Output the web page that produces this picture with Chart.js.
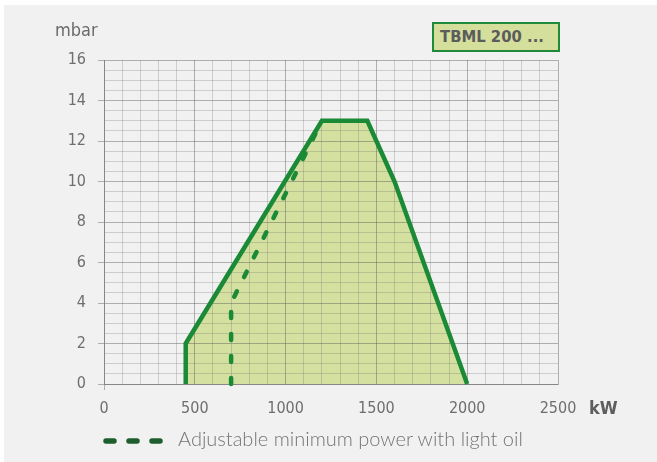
<!DOCTYPE html>
<html>
<head>
<meta charset="utf-8">
<script src="https://cdn.jsdelivr.net/npm/chart.js@4.4.1/dist/chart.umd.min.js"></script>
<style>
  html, body { margin: 0; padding: 0; background: #ffffff; }
  #wrap { position: relative; width: 657px; height: 462px; overflow: hidden; }
  #bg { position: absolute; left: 4px; top: 5px; right: 0; bottom: 0; background: #f1f1f1; }
  #chart { position: absolute; left: 0; top: 0; }
  .lbl { position: absolute; font-family: "DejaVu Sans Condensed", "DejaVu Sans", sans-serif; color: #6a6a6a; white-space: nowrap; }
  #unitY { left: 55px; top: 19px; font-size: 18px; }
  #unitX { left: 589px; top: 397px; font-size: 18px; font-weight: bold; color: #5e5e5e; }
  #model { position: absolute; left: 432px; top: 22px; width: 118px; height: 26px; border: 2px solid #1e8a3a; background: #d4df9c;
           font-family: "DejaVu Sans Condensed", "DejaVu Sans", sans-serif; font-weight: bold; font-size: 16.5px; color: #5c5c5c;
           line-height: 26px; padding-left: 6px; box-sizing: content-box; white-space: nowrap; }
  #legend { position: absolute; left: 98px; top: 428px; }
  #legText { position: absolute; left: 178px; top: 426px; font-family: Lato, "Open Sans", sans-serif; font-size: 20px; color: #747474; white-space: nowrap; font-weight: 300; }
</style>
</head>
<body>
<div id="wrap">
  <div id="bg"></div>
  <canvas id="chart" width="657" height="462"></canvas>
  <div class="lbl" id="unitY">mbar</div>
  <div class="lbl" id="unitX">kW</div>
  <div id="model">TBML 200 ...</div>
  <svg id="legend" width="72" height="26"></svg>
  <div id="legText"></div>
</div>
<script>
// ---- data ----
const rangeKW   = [450, 450, 1200, 1450, 1600, 2000];
const rangeMbar = [0,   2,   13,   13,   10,   0];
const oilKW     = [700, 700, 1200];
const oilMbar   = [0,   4,   13];
const xTickLabels = [0, 500, 1000, 1500, 2000, 2500];
const yTickLabels = [0, 2, 4, 6, 8, 10, 12, 14, 16];
const legendLabel = 'Adjustable minimum power with light oil';

document.getElementById('legText').textContent = legendLabel;

// legend dashes
document.getElementById('legend').innerHTML =
  '<line x1="8" y1="13" x2="63" y2="13" stroke="#1e5e2e" stroke-width="5.5" stroke-linecap="round" stroke-dasharray="8 15" />';

const MAJOR = 'rgba(80,80,80,0.42)';
const MINOR = 'rgba(110,110,110,0.28)';
const GREEN = '#1b8a37';

function toPts(xs, ys) { return xs.map((x, i) => ({ x: x, y: ys[i] })); }

new Chart(document.getElementById('chart'), {
  type: 'line',
  data: {
    datasets: [
      {
        data: toPts(rangeKW, rangeMbar),
        borderColor: GREEN,
        borderWidth: 4.5,
        backgroundColor: '#d4e09f',
        fill: 'origin',
        pointRadius: 0,
        tension: 0,
        clip: 8,
        borderJoinStyle: 'miter'
      },
      {
        data: toPts(oilKW, oilMbar),
        borderColor: GREEN,
        borderWidth: 4.5,
        borderDash: [6, 16],
        borderCapStyle: 'round',
        fill: false,
        pointRadius: 0,
        tension: 0,
        clip: 8
      }
    ]
  },
  options: {
    responsive: false,
    animation: false,
    events: [],
    layout: { padding: { left: 0, top: 60, right: 99, bottom: 0 } },
    plugins: {
      legend: { display: false },
      tooltip: { enabled: false },
      filler: { drawTime: 'beforeDraw' }
    },
    scales: {
      x: {
        type: 'linear',
        min: 0, max: 2500,
        afterFit: s => { s.height = 78; },
        ticks: {
          stepSize: 100,
          autoSkip: false,
          maxRotation: 0,
          padding: 9,
          color: '#6e6e6e',
          font: { family: '"DejaVu Sans Condensed", "DejaVu Sans", sans-serif', size: 16 },
          callback: v => xTickLabels.includes(v) ? String(v) : ''
        },
        grid: {
          color: c => (c.tick && c.tick.value % 500 === 0) ? MAJOR : MINOR,
          tickColor: c => (c.tick && (c.tick.value === 0)) ? MAJOR : 'rgba(0,0,0,0)',
          tickLength: 6,
          lineWidth: 1
        },
        border: { display: true, color: MAJOR, width: 1 }
      },
      y: {
        type: 'linear',
        min: 0, max: 16,
        afterFit: s => { s.width = 104; },
        ticks: {
          stepSize: 0.5,
          autoSkip: false,
          padding: 12,
          color: '#6e6e6e',
          font: { family: '"DejaVu Sans Condensed", "DejaVu Sans", sans-serif', size: 16 },
          callback: v => yTickLabels.includes(v) ? String(v) : ''
        },
        grid: {
          color: c => (c.tick && c.tick.value % 2 === 0) ? MAJOR : MINOR,
          tickColor: c => (c.tick && c.tick.value % 2 === 0) ? MAJOR : 'rgba(0,0,0,0)',
          tickLength: 6,
          lineWidth: 1
        },
        border: { display: true, color: MAJOR, width: 1 }
      }
    }
  }
});
</script>
</body>
</html>
